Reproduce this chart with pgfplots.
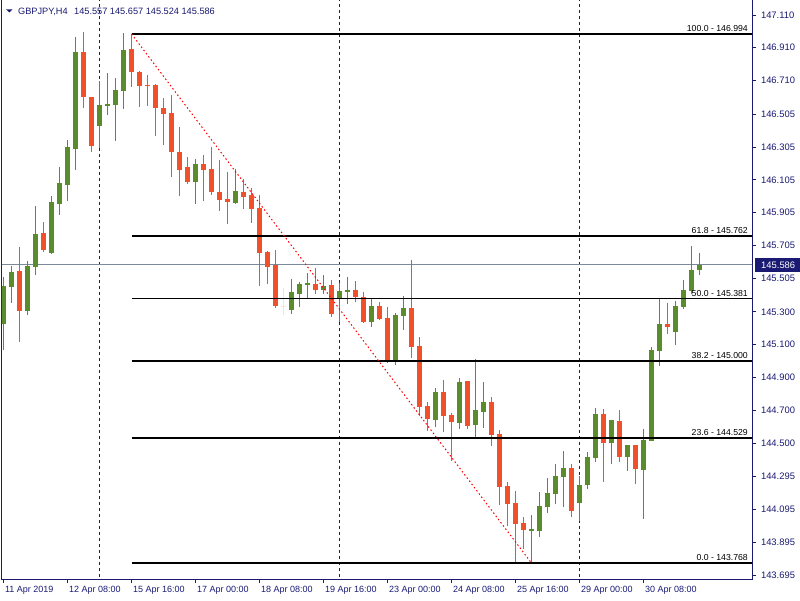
\documentclass[border=0pt]{standalone}
\usepackage{pgfplots}
\usepackage{pgfplotstable}
\pgfplotsset{compat=1.18}
\usepackage{fontspec}
\setmainfont{Liberation Sans}
\definecolor{cgreen}{HTML}{5A8C2C}
\definecolor{cred}{HTML}{F0502A}
\definecolor{cnavy}{HTML}{1A1A72}
\definecolor{cneutral}{HTML}{F3E4DA}
\definecolor{cgrey}{HTML}{7A8A99}

\pgfplotstableread{
x O H L C
0 145.226 145.512 145.067 145.457
1 145.451 145.579 145.354 145.543
3 145.305 145.610 145.281 145.579
4 145.573 145.945 145.524 145.774
6 145.659 146.006 145.655 145.970
7 145.957 146.183 145.890 146.085
8 146.073 146.348 145.976 146.305
9 146.293 146.976 146.165 146.884
12 146.433 146.707 146.299 146.561
13 146.555 146.756 146.500 146.567
14 146.561 146.726 146.342 146.653
15 146.646 147.000 146.537 146.896
24 146.092 146.232 145.957 146.201
29 145.963 146.171 145.960 146.037
36 145.311 145.500 145.287 145.421
37 145.409 145.482 145.329 145.470
38 145.467 145.537 145.384 145.473
40 145.433 145.524 145.409 145.457
42 145.378 145.476 145.238 145.427
43 145.424 145.512 145.348 145.430
46 145.238 145.378 145.207 145.335
49 144.994 145.293 144.976 145.281
50 145.274 145.396 145.189 145.323
54 144.640 144.836 144.598 144.811
57 144.622 144.896 144.585 144.872
59 144.610 145.012 144.537 144.701
60 144.689 144.872 144.591 144.750
66 143.963 144.061 143.768 143.976
67 143.963 144.201 143.927 144.116
68 144.110 144.287 144.073 144.195
69 144.189 144.372 144.128 144.299
70 144.293 144.451 144.110 144.348
72 144.134 144.299 144.024 144.244
73 144.244 144.445 144.220 144.415
74 144.409 144.713 144.384 144.677
76 144.500 144.640 144.372 144.640
78 144.415 144.488 144.329 144.488
80 144.335 144.585 144.037 144.518
81 144.512 145.085 144.510 145.067
82 145.061 145.378 144.970 145.226
84 145.177 145.366 145.098 145.335
85 145.329 145.494 145.317 145.433
86 145.427 145.701 145.409 145.555
87 145.557 145.657 145.524 145.586
}\bull

\pgfplotstableread{
x O H L C
2 145.549 145.695 145.116 145.305
5 145.781 145.848 145.665 145.677
10 146.884 147.006 146.543 146.610
11 146.610 146.612 146.274 146.311
16 146.903 146.994 146.671 146.762
17 146.762 146.768 146.549 146.677
18 146.683 146.744 146.555 146.677
19 146.683 146.686 146.372 146.543
20 146.543 146.604 146.317 146.506
21 146.512 146.622 146.122 146.274
22 146.274 146.427 146.006 146.165
23 146.183 146.244 146.079 146.092
25 146.201 146.256 145.976 146.165
26 146.171 146.305 146.012 146.031
27 146.031 146.226 145.915 145.982
28 145.988 146.152 145.835 145.970
30 146.031 146.110 145.927 146.000
31 146.012 146.055 145.841 145.927
32 145.933 146.012 145.457 145.659
33 145.665 145.671 145.470 145.573
34 145.585 145.677 145.323 145.335
39 145.470 145.567 145.409 145.433
41 145.464 145.494 145.268 145.287
44 145.433 145.488 145.360 145.390
45 145.390 145.421 145.232 145.238
47 145.335 145.360 145.250 145.256
48 145.262 145.329 144.988 145.000
51 145.323 145.616 145.018 145.085
52 145.091 145.146 144.665 144.720
53 144.726 144.750 144.573 144.646
55 144.811 144.884 144.567 144.665
56 144.671 144.683 144.390 144.628
58 144.878 144.880 144.585 144.604
61 144.750 144.781 144.482 144.549
62 144.555 144.579 144.122 144.232
63 144.238 144.262 143.994 144.128
64 144.134 144.207 143.774 144.006
65 144.012 144.049 143.854 143.970
71 144.348 144.372 144.049 144.085
75 144.677 144.707 144.262 144.500
77 144.634 144.701 144.384 144.415
79 144.488 144.488 144.250 144.341
83 145.226 145.354 145.165 145.207
}\bear

\pgfplotstableread{
x O H L C
35 145.335 145.445 145.281 145.335
}\neutral

\pgfplotsset{candle/.style={draw=none, mark=none, error bars/.cd, y dir=both, y explicit, error mark=none}}

\begin{document}
\begin{tikzpicture}
\useasboundingbox (0,0) rectangle (800pt,600pt);
\begin{axis}[
  at={(2pt,21pt)}, anchor=south west,
  scale only axis, width=750pt, height=579pt,
  xmin=-0.1875, xmax=93.5625, ymin=143.671, ymax=147.201,
  clip mode=individual,
  axis line style={cnavy, line width=1pt},
  xtick pos=bottom, ytick pos=right, yticklabel pos=right,
  tick align=outside, major tick length=4pt,
  tick style={cnavy, line width=0.8pt},
  ytick={147.110,146.910,146.710,146.505,146.305,146.105,145.905,145.705,145.505,145.300,145.100,144.900,144.700,144.500,144.295,144.095,143.895,143.695},
  yticklabels={147.110,146.910,146.710,146.505,146.305,146.105,145.905,145.705,145.505,145.300,145.100,144.900,144.700,144.500,144.295,144.095,143.895,143.695},
  xtick={0,8,16,24,32,40,48,56,64,72,80},
  xticklabels={11 Apr 2019,12 Apr 08:00,15 Apr 16:00,17 Apr 00:00,18 Apr 08:00,19 Apr 16:00,23 Apr 00:00,24 Apr 08:00,25 Apr 16:00,29 Apr 00:00,30 Apr 08:00},
  ticklabel style={font=\fontsize{9.4}{10}\selectfont, text=cnavy},
  xticklabel style={anchor=north west, xshift=-2pt, font=\fontsize{9}{10}\selectfont},
  yticklabel style={anchor=west, xshift=1.5pt},
]
% week separators
\addplot[cnavy, line width=1pt, dash pattern=on 3pt off 3pt] coordinates {(12,143.5) (12,147.3)};
\addplot[cnavy, line width=1pt, dash pattern=on 3pt off 3pt] coordinates {(42,143.5) (42,147.3)};
\addplot[cnavy, line width=1pt, dash pattern=on 3pt off 3pt] coordinates {(72,143.5) (72,147.3)};
% current price line
\addplot[cgrey, line width=1pt] coordinates {(-1,145.586) (95,145.586)};
% wicks
\addplot[candle, error bar style={draw=cgreen, line width=1.1pt, solid}]
  table[x=x, y expr={(\thisrow{H}+\thisrow{L})/2}, y error expr={(\thisrow{H}-\thisrow{L})/2}] {\bull};
\addplot[candle, error bar style={draw=cred, line width=1.1pt, solid}]
  table[x=x, y expr={(\thisrow{H}+\thisrow{L})/2}, y error expr={(\thisrow{H}-\thisrow{L})/2}] {\bear};
\addplot[candle, error bar style={draw=cneutral, line width=1.1pt, solid}]
  table[x=x, y expr={(\thisrow{H}+\thisrow{L})/2}, y error expr={(\thisrow{H}-\thisrow{L})/2}] {\neutral};
% bodies
\addplot[candle, error bar style={draw=cgreen, line width=5pt, solid}]
  table[x=x, y expr={(\thisrow{O}+\thisrow{C})/2}, y error expr={max(abs(\thisrow{O}-\thisrow{C})/2,0.003)}] {\bull};
\addplot[candle, error bar style={draw=cred, line width=5pt, solid}]
  table[x=x, y expr={(\thisrow{O}+\thisrow{C})/2}, y error expr={max(abs(\thisrow{O}-\thisrow{C})/2,0.003)}] {\bear};
\addplot[candle, error bar style={draw=cneutral, line width=5pt, solid}]
  table[x=x, y expr={(\thisrow{O}+\thisrow{C})/2}, y error expr={max(abs(\thisrow{O}-\thisrow{C})/2,0.003)}] {\neutral};
% fibonacci levels
\addplot[black, line width=1.6pt] coordinates {(16,146.994) (95,146.994)};
\addplot[black, line width=1.6pt] coordinates {(16,145.762) (95,145.762)};
\addplot[black, line width=1.6pt] coordinates {(16,145.381) (95,145.381)};
\addplot[black, line width=1.6pt] coordinates {(16,145.000) (95,145.000)};
\addplot[black, line width=1.6pt] coordinates {(16,144.529) (95,144.529)};
\addplot[black, line width=1.6pt] coordinates {(16,143.768) (95,143.768)};
% trend line
\addplot[red, line width=1pt, dash pattern=on 1.5pt off 2.5pt] coordinates {(16,146.994) (66,143.768)};
% fib labels
\begin{scope}[every node/.style={anchor=base east, inner sep=0pt, yshift=2.5pt, font=\fontsize{8.7}{10}\selectfont, text=black}]
\node at (axis cs:93.06,146.994) {100.0 - 146.994};
\node at (axis cs:93.06,145.762) {61.8 - 145.762};
\node at (axis cs:93.06,145.381) {50.0 - 145.381};
\node at (axis cs:93.06,145.000) {38.2 - 145.000};
\node at (axis cs:93.06,144.529) {23.6 - 144.529};
\node at (axis cs:93.06,143.768) {0.0 - 143.768};
\end{scope}
% current price box
\node[anchor=west, fill=cnavy, text=white, inner xsep=6pt, inner ysep=0pt, minimum height=14pt, text width=36pt, align=left, font=\fontsize{9.4}{10}\selectfont, xshift=3pt] at (axis cs:93.5625,145.586) {145.586};
\end{axis}
\fill[cnavy] (6pt,590.7pt) -- (12.7pt,590.7pt) -- (9.35pt,587.6pt) -- cycle;
\node[anchor=base west, inner sep=0pt, text=cnavy, font=\fontsize{9.2}{10}\selectfont] at (18pt,585.5pt) {GBPJPY,H4\hspace{4pt} 145.557 145.657 145.524 145.586};
\end{tikzpicture}
\end{document}
